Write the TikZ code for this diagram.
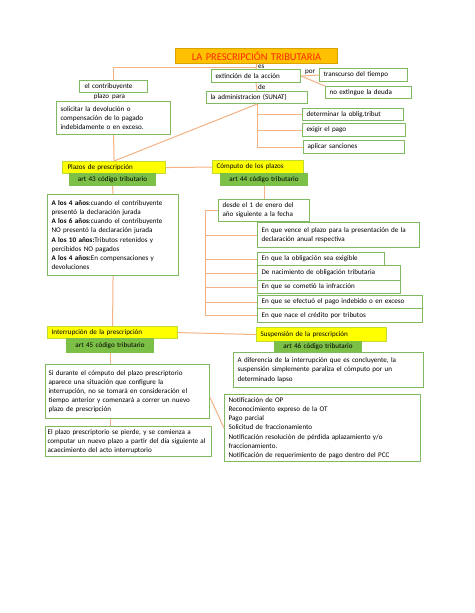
\documentclass[tikz,border=0pt]{standalone}
\usepackage{fontspec}
\setmainfont{Carlito}
\definecolor{connc}{RGB}{244,177,131}
\definecolor{boxg}{RGB}{128,186,96}
\definecolor{artg}{RGB}{125,192,72}
\definecolor{ylw}{RGB}{255,255,0}
\definecolor{ttlfill}{RGB}{255,192,0}
\definecolor{ttltext}{RGB}{255,40,0}
\newcommand\mkbox[8][4]{%
  \pgfmathsetmacro\bxw{#6-#4}%
  \pgfmathsetmacro\bxh{#7-#5}%
  \pgfmathsetmacro\bxt{#6-#4-2*#1}%
  \node[#2,inner xsep=#1pt,minimum width=\bxw pt,minimum height=\bxh pt,text width=\bxt pt,anchor=north west] (#3) at (#4,#5) {#8};}
\tikzset{
  base/.style={font=\fontsize{7.1}{9.1}\selectfont, inner ysep=0.5pt, line width=1.1pt},
  wbox/.style={base, draw=boxg, fill=white, align=left},
  ybox/.style={base, draw=boxg!50!yellow, fill=ylw, align=left},
  gbox/.style={base, draw=artg, fill=artg, align=center},
  tbox/.style={base, draw=ttlfill!85!black, fill=ttlfill, text=ttltext, align=center, font=\fontsize{10.4}{11}\selectfont},
  lbl/.style={font=\fontsize{7.1}{8}\selectfont, inner sep=0pt},
  conn/.style={draw=connc, line width=1pt}
}
\begin{document}
\begin{tikzpicture}[x=1pt,y=-1pt]
\path[fill=white] (0,0) rectangle (474,613);
\useasboundingbox (0,0) rectangle (474,613);

% boxes
\mkbox{tbox}{title}{175}{48}{337}{63}{LA PRESCRIPCIÓN TRIBUTARIA}
\mkbox{wbox}{ext}{211}{69}{300}{82}{extinción de la acción}
\mkbox{wbox}{admin}{206}{91}{307}{103}{la administracion (SUNAT)}
\mkbox{wbox}{trans}{319}{68}{407}{81}{transcurso del tiempo}
\mkbox{wbox}{noext}{325}{86}{411}{98}{no extingue la deuda}
\mkbox{wbox}{determ}{302}{108}{403}{120}{determinar la oblig.tribut}
\mkbox{wbox}{exigir}{302}{123}{405}{136}{exigir el pago}
\mkbox{wbox}{aplicar}{303}{140}{404}{153}{aplicar sanciones}
\mkbox[5]{wbox}{contrib}{79}{80}{147}{92}{el contribuyente}
\mkbox{wbox}{solic}{56}{101}{170}{134}{solicitar la devolución o\\compensación de lo pagado\\indebidamente o en exceso.}
\mkbox[5]{ybox}{plazos}{62}{161}{165}{173}{Plazos de prescripción}
\mkbox{gbox}{art43}{69}{173}{155}{185}{art 43 código tributario}
\mkbox{ybox}{computo}{212}{160}{303}{173}{Cómputo de los plazos}
\mkbox{gbox}{art44}{220}{173}{307}{185}{art 44 código tributario}
\mkbox{wbox}{alos}{47}{194}{178}{275}{\textbf{A los 4 años}:cuando el contribuyente\\presentó la declaración jurada\\\textbf{A los 6 años}:cuando el contribuyente\\NO presentó la declaración jurada\\\textbf{A los 10 años:}Tributos retenidos y\\percibidos NO pagados\\\textbf{A los 4 años:}En compensaciones y\\devoluciones}
\mkbox{wbox}{desde}{218}{199}{309}{221}{desde el 1 de enero del\\año siguiente a la fecha}
\mkbox{wbox}{vence}{257}{222}{419}{247}{En que vence el plazo para la presentación de la\\declaración anual respectiva}
\mkbox{wbox}{oblig}{257}{252}{384}{265}{En que la obligación sea exigible}
\mkbox{wbox}{nacim}{257}{265}{400}{280}{De nacimiento de obligación tributaria}
\mkbox{wbox}{infrac}{257}{280}{400}{293}{En que se cometió la infracción}
\mkbox{wbox}{pagoind}{257}{295}{422}{308}{En que se efectuó el pago indebido o en exceso}
\mkbox{wbox}{credito}{257}{308}{422}{322}{En que nace el crédito por tributos}
\mkbox{ybox}{interr}{47}{326}{177}{338}{Interrupción de la prescripción}
\mkbox{gbox}{art45}{66}{338}{153}{352}{art 45 código tributario}
\mkbox{ybox}{susp}{256}{327}{386}{341}{Suspensión de la prescripción}
\mkbox{gbox}{art46}{274}{341}{361}{352}{art 46 código tributario}
\mkbox{wbox}{difer}{233}{352}{423}{387}{A diferencia de la interrupción que es concluyente, la\\suspensión simplemente paraliza el cómputo por un\\determinado lapso}
\mkbox[3]{wbox}{sidur}{45}{364}{209}{418}{Si durante el cómputo del plazo prescriptorio\\aparece una situación que configure la\\interrupción, no se tomará en consideración el\\tiempo anterior y comenzará a correr un nuevo\\plazo de prescripción}
\mkbox[2]{wbox}{elplazo}{45}{426}{211}{456}{El plazo prescriptorio se pierde, y se comienza a\\computar un nuevo plazo a partir del día siguiente al\\acaecimiento del acto interruptorio}
\mkbox{wbox}{notif}{224}{394}{420}{461}{Notificación de OP\\Reconocimiento expreso de la OT\\Pago parcial\\Solicitud de fraccionamiento\\Notificación resolución de pérdida aplazamiento y/o\\fraccionamiento.\\Notificación de requerimiento de pago dentro del PCC}

% labels
\node[lbl, anchor=west] (les) at (258,66.5) {es};
\node[lbl, anchor=west] (lde) at (258,87) {de};
\node[lbl, anchor=west] (lpor) at (305,72) {por};
\node[lbl] (lplazo) at (109.5,97) {plazo\ \ para};

% connectors
\coordinate (bk) at (205,0);
\draw[conn] (title.south) -- (ext.north);
\draw[conn] ([yshift=-3pt]title.south) -| (contrib.north);
\draw[conn] (ext.south) -- (admin.north);
\draw[conn] (ext.east) -- (trans.west);
\draw[conn] (ext.east) -- (noext.north west);
\draw[conn] (admin.south) |- (aplicar.west);
\draw[conn] (admin.south |- determ.west) -- (determ.west);
\draw[conn] (admin.south |- exigir.west) -- (exigir.west);
\draw[conn] (admin.south) -- (plazos.north);
\draw[conn] (solic.south) -- (plazos.north);
\draw[conn] (plazos.east) -- (computo.west);
\draw[conn] (art43.south) -- (alos.north);
\draw[conn] (art44.south) -- (desde.north);
\draw[conn] (desde.west) -| (bk |- credito.west) -- (credito.west);
\draw[conn] (bk |- vence.west) -- (vence.west);
\draw[conn] (bk |- oblig.west) -- (oblig.west);
\draw[conn] (bk |- nacim.west) -- (nacim.west);
\draw[conn] (bk |- infrac.west) -- (infrac.west);
\draw[conn] (bk |- pagoind.west) -- (pagoind.west);
\draw[conn] (alos.south) -- (interr.north);
\draw[conn] (interr.east) -- (susp.west);
\draw[conn] (art45.south) -- (art45.south |- sidur.north);
\draw[conn] (art45.south |- sidur.south) -- (art45.south |- elplazo.north);
\draw[conn] ([yshift=-6pt]sidur.east) -- (notif.west);
\end{tikzpicture}
\end{document}
